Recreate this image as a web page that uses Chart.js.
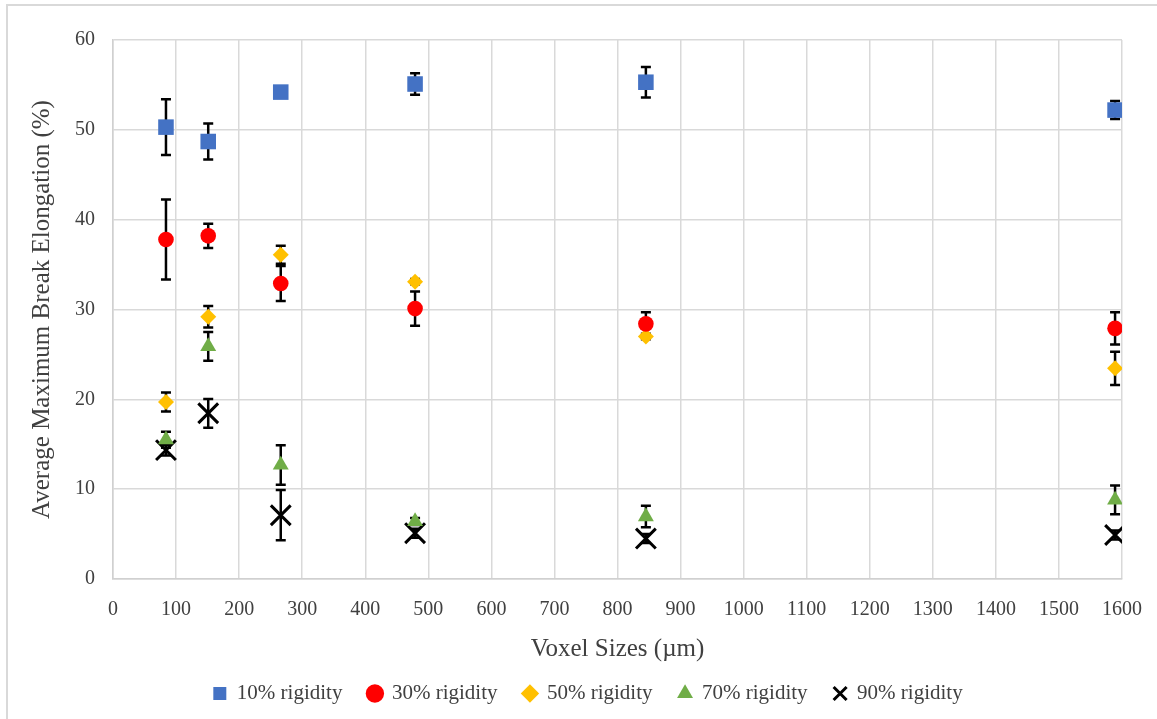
<!DOCTYPE html>
<html>
<head>
<meta charset="utf-8">
<script src="https://cdn.jsdelivr.net/npm/chart.js@4.4.1/dist/chart.umd.min.js"></script>
<style>
  html, body { margin: 0; padding: 0; background: #fff; }
  #wrap { position: relative; width: 1157px; height: 719px; overflow: hidden; }
  #frame { position: absolute; left: 6px; top: 4px; width: 1200px; height: 800px;
           border-left: 2px solid #d9d9d9; border-top: 2px solid #d9d9d9; }
  canvas { position: absolute; left: 0; top: 0; }
</style>
</head>
<body>
<div id="wrap">
  <div id="frame"></div>
  <canvas id="chart" width="1157" height="719"></canvas>
</div>
<script>
// voxel sizes (µm) on the x axis
var voxelSizes = [84, 151, 266, 479, 845, 1589];

// average max break elongation (%) and the +/- error per rigidity
var rig10 = [50.3, 48.7, 54.2, 55.1, 55.3, 52.2];
var err10 = [3.1, 2.0, 0.5, 1.2, 1.7, 1.0];
var rig30 = [37.8, 38.2, 32.9, 30.1, 28.4, 27.9];
var err30 = [4.45, 1.35, 1.95, 1.9, 1.3, 1.8];
var rig50 = [19.7, 29.2, 36.1, 33.1, 27.0, 23.45];
var err50 = [1.05, 1.2, 1.0, 0.3, 0.3, 1.85];
var rig70 = [15.5, 25.9, 12.7, 6.4, 6.95, 8.8];
var err70 = [0.9, 1.6, 2.2, 0.4, 1.2, 1.6];
var rig90 = [14.35, 18.45, 7.1, 5.1, 4.5, 4.9];
var err90 = [0.6, 1.6, 2.8, 0.5, 0.5, 0.5];

var seriesNames = ['10% rigidity', '30% rigidity', '50% rigidity', '70% rigidity', '90% rigidity'];

function points(vals) {
  return vals.map(function (v, i) { return { x: voxelSizes[i], y: v }; });
}

// draws the black error bars under the markers
var errorBars = {
  id: 'errorBars',
  beforeDatasetsDraw: function (chart) {
    var ctx = chart.ctx, xs = chart.scales.x, ys = chart.scales.y;
    ctx.save();
    ctx.strokeStyle = '#000';
    ctx.lineWidth = 2.5;
    chart.data.datasets.forEach(function (ds) {
      ds.data.forEach(function (pt, i) {
        var px = xs.getPixelForValue(pt.x);
        var top = ys.getPixelForValue(pt.y + ds.errors[i]);
        var bot = ys.getPixelForValue(pt.y - ds.errors[i]);
        ctx.beginPath();
        ctx.moveTo(px, top); ctx.lineTo(px, bot);
        ctx.moveTo(px - 5, top); ctx.lineTo(px + 5, top);
        ctx.moveTo(px - 5, bot); ctx.lineTo(px + 5, bot);
        ctx.stroke();
      });
    });
    ctx.restore();
  }
};

// nudge the legend to where it sits in the picture
var legendShift = {
  id: 'legendShift',
  afterInit: function (chart) {
    var fit = chart.legend.fit;
    chart.legend.fit = function () { fit.call(this); this.height = 44; };
  },
  afterLayout: function (chart) {
    var lg = chart.legend;
    lg.left += 24; lg.right += 24;
    lg.top -= 12;
  }
};

Chart.defaults.font.family = "'Liberation Serif', 'Times New Roman', serif";
Chart.defaults.color = '#404040';

new Chart(document.getElementById('chart'), {
  type: 'scatter',
  data: {
    datasets: [
      { label: seriesNames[0], data: points(rig10), errors: err10, pointStyle: 'rect', pointRadius: 11,
        backgroundColor: '#4472C4', borderColor: '#4472C4', borderWidth: 0 },
      { label: seriesNames[1], data: points(rig30), errors: err30, pointStyle: 'circle', pointRadius: 7.8,
        backgroundColor: '#FF0000', borderColor: '#FF0000', borderWidth: 0 },
      { label: seriesNames[2], data: points(rig50), errors: err50, pointStyle: 'rectRot', pointRadius: 8,
        backgroundColor: '#FFC000', borderColor: '#FFC000', borderWidth: 0 },
      { label: seriesNames[3], data: points(rig70), errors: err70, pointStyle: 'triangle', pointRadius: 9.2,
        backgroundColor: '#70AD47', borderColor: '#70AD47', borderWidth: 0 },
      { label: seriesNames[4], data: points(rig90), errors: err90, pointStyle: 'crossRot', pointRadius: 14,
        backgroundColor: '#000', borderColor: '#000', borderWidth: 3 }
    ]
  },
  options: {
    responsive: false,
    animation: false,
    layout: { padding: { left: 6, top: 40, right: 35, bottom: 6 } },
    plugins: {
      tooltip: { enabled: false },
      legend: {
        position: 'bottom',
        labels: {
          usePointStyle: true,
          boxWidth: 13,
          boxHeight: 13,
          padding: 26,
          color: '#404040',
          font: { size: 21 }
        }
      }
    },
    scales: {
      x: {
        type: 'linear',
        min: 0, max: 1600,
        afterFit: function (s) { s.height = 90; s.paddingLeft = 0; s.paddingRight = 0; },
        ticks: { stepSize: 100, autoSkip: false, maxRotation: 0, padding: 19, font: { size: 20 }, color: '#404040',
                 callback: function (v) { return String(v); } },
        grid: { color: '#d9d9d9', lineWidth: 1.5, drawTicks: false },
        border: { color: '#d0d0d0', width: 1.5 },
        title: { display: true, text: 'Voxel Sizes (µm)', font: { size: 25 }, color: '#404040',
                 padding: { top: 0, bottom: 5 } }
      },
      y: {
        min: 0, max: 60,
        afterFit: function (s) { s.width = 107; },
        ticks: { stepSize: 10, padding: 18, font: { size: 20 }, color: '#404040' },
        grid: { color: '#d9d9d9', lineWidth: 1.5, drawTicks: false },
        border: { color: '#d0d0d0', width: 1.5 },
        title: { display: true, text: 'Average Maximum Break Elongation (%)', font: { size: 25 }, color: '#404040',
                 padding: { top: 21, bottom: 0 } }
      }
    }
  },
  plugins: [errorBars, legendShift]
});
</script>
</body>
</html>
